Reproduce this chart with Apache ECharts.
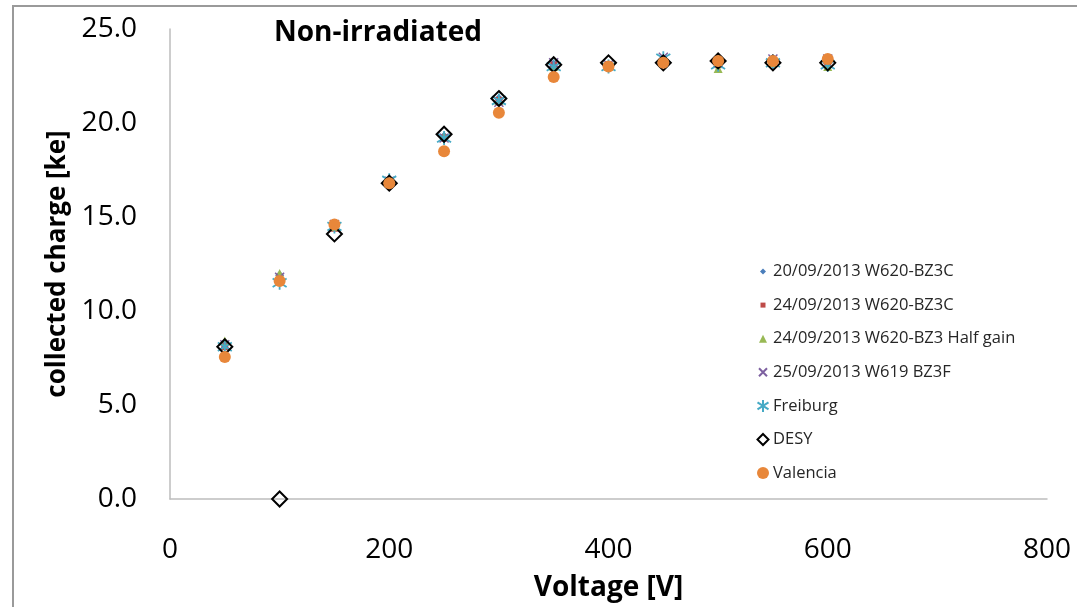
<!DOCTYPE html>
<html>
<head>
<meta charset="utf-8">
<script src="https://cdn.jsdelivr.net/npm/echarts@6/dist/echarts.min.js"></script>
<style>
  html, body { margin: 0; padding: 0; background: #fff; }
  #chart { width: 1077px; height: 607px; }
</style>
</head>
<body>
<div id="chart"></div>
<script>
// Bias voltage [V] for every run
const voltages = [50, 100, 150, 200, 250, 300, 350, 400, 450, 500, 550, 600];

// Collected charge [ke] per run
const run20W620 = [8.2, 11.9, 14.5, 16.9, 19.3, 21.3, 23.0, 23.1, 23.3, 23.2, 23.2, 23.2];
const run24W620 = [8.1, 11.8, 14.4, 16.8, 19.2, 21.2, 23.1, 23.1, 23.3, 23.1, 23.3, 23.2];
const run24HalfGain = [8.4, 12.0, 14.5, 16.9, 19.3, 21.2, 23.0, 23.0, 23.2, 22.9, 23.2, 23.0];
const run25W619 = [8.2, 11.8, 14.6, 16.9, 19.2, 21.1, 23.2, 23.1, 23.5, 23.2, 23.4, 23.4];
const freiburg = [8.1, 11.5, 14.5, 16.95, 19.2, 21.2, 23.0, 23.0, 23.45, 23.1, 23.2, 23.1];
const desy = [8.1, 0.0, 14.1, 16.8, 19.4, 21.3, 23.1, 23.2, 23.2, 23.3, 23.2, 23.2];
const valencia = [7.55, 11.6, 14.6, 16.8, 18.5, 20.55, 22.45, 23.0, 23.2, 23.3, 23.3, 23.4];

const seriesNames = [
  '20/09/2013 W620-BZ3C',
  '24/09/2013 W620-BZ3C',
  '24/09/2013 W620-BZ3 Half gain',
  '25/09/2013 W619 BZ3F',
  'Freiburg',
  'DESY',
  'Valencia'
];

// Axis ticks
const xTicks = { min: 0, max: 800, step: 200 };
const yTicks = { min: 0, max: 25, step: 5 };

const pair = (ys) => voltages.map((v, i) => [v, ys[i]]);

// Marker shapes
const crossPath = 'path://M0,0L10,10M0,10L10,0';
const starPath = 'path://M5,0L5,10M0,2L10,8M0,8L10,2';
// Legend icons padded inside a 12x12 box so they come out smaller
const legDiamond = 'path://M0,0M12,12M6,3L9,6L6,9L3,6Z';
const legSquare = 'path://M0,0M12,12M3.5,3.5L8.5,3.5L8.5,8.5L3.5,8.5Z';
const legTriangle = 'path://M0,0M12,12M6,2L10,10L2,10Z';
const legCross = 'path://M0,0M12,12M2,2L10,10M2,10L10,2';
const legStar = 'path://M0,0M12,12M6,0L6,12M0.5,2.5L11.5,9.5M0.5,9.5L11.5,2.5';
const legDiamondOpen = 'path://M0,0M12,12M6,0.5L11.5,6L6,11.5L0.5,6Z';
const legCircle = 'circle';

const none = 'rgba(0,0,0,0)';

const chart = echarts.init(document.getElementById('chart'), null, { renderer: 'canvas' });

chart.setOption({
  animation: false,
  backgroundColor: '#fff',
  textStyle: { fontFamily: 'Open Sans' },
  title: {
    text: 'Non-irradiated',
    left: 269,
    top: 14,
    textStyle: { fontFamily: 'Open Sans', fontWeight: 'bold', fontSize: 28, color: '#000' }
  },
  graphic: [{
    type: 'rect',
    shape: { x: 13, y: 6, width: 1200, height: 800 },
    style: { fill: none, stroke: '#9a9a9a', lineWidth: 2 },
    silent: true
  }],
  legend: {
    orient: 'vertical',
    left: 751,
    top: 258,
    itemWidth: 12,
    itemHeight: 14,
    itemGap: 16.6,
    selectedMode: false,
    textStyle: { fontFamily: 'Open Sans', fontSize: 16.5, color: '#262626', padding: [0, 0, 0, -1] },
    data: [
      { name: seriesNames[0], icon: legDiamond },
      { name: seriesNames[1], icon: legSquare },
      { name: seriesNames[2], icon: legTriangle },
      { name: seriesNames[3], icon: legCross },
      { name: seriesNames[4], icon: legStar },
      { name: seriesNames[5], icon: legDiamondOpen },
      { name: seriesNames[6], icon: legCircle }
    ]
  },
  grid: { left: 170, right: 30, top: 29, bottom: 108, containLabel: false },
  xAxis: {
    type: 'value',
    min: xTicks.min,
    max: xTicks.max,
    interval: xTicks.step,
    name: 'Voltage [V]',
    nameLocation: 'middle',
    nameGap: 75,
    nameTextStyle: { fontFamily: 'Open Sans', fontWeight: 'bold', fontSize: 28, color: '#000' },
    axisLine: { show: true, lineStyle: { color: '#bdbdbd', width: 1.5 } },
    axisTick: { show: false },
    splitLine: { show: false },
    axisLabel: { fontFamily: 'Open Sans', fontSize: 28, color: '#000', margin: 37 }
  },
  yAxis: {
    type: 'value',
    min: yTicks.min,
    max: yTicks.max,
    interval: yTicks.step,
    name: 'collected charge [ke]',
    nameLocation: 'middle',
    nameGap: 97,
    nameTextStyle: { fontFamily: 'Open Sans', fontWeight: 'bold', fontSize: 26, color: '#000' },
    axisLine: { show: true, lineStyle: { color: '#bdbdbd', width: 1.5 } },
    axisTick: { show: false },
    splitLine: { show: false },
    axisLabel: {
      fontFamily: 'Open Sans', fontSize: 28, color: '#000', margin: 33,
      formatter: (v) => v.toFixed(1)
    }
  },
  series: [
    {
      name: seriesNames[0], type: 'scatter', data: pair(run20W620),
      symbol: 'diamond', symbolSize: 9,
      itemStyle: { color: '#4a7ebb', opacity: 1 }
    },
    {
      name: seriesNames[1], type: 'scatter', data: pair(run24W620),
      symbol: 'rect', symbolSize: 7,
      itemStyle: { color: '#be4b48', opacity: 1 }
    },
    {
      name: seriesNames[2], type: 'scatter', data: pair(run24HalfGain),
      symbol: 'triangle', symbolSize: 9,
      itemStyle: { color: '#98b954', opacity: 1 }
    },
    {
      name: seriesNames[3], type: 'scatter', data: pair(run25W619),
      symbol: crossPath, symbolSize: 9,
      itemStyle: { color: none, borderColor: '#7d60a0', borderWidth: 1.5, opacity: 1 }
    },
    {
      name: seriesNames[4], type: 'scatter', data: pair(freiburg),
      symbol: starPath, symbolSize: 14,
      itemStyle: { color: none, borderColor: '#46aac5', borderWidth: 1.8, opacity: 1 }
    },
    {
      name: seriesNames[5], type: 'scatter', data: pair(desy),
      symbol: 'diamond', symbolSize: 15,
      itemStyle: { color: none, borderColor: '#000', borderWidth: 2, opacity: 1 }
    },
    {
      name: seriesNames[6], type: 'scatter', data: pair(valencia),
      symbol: 'circle', symbolSize: 12,
      itemStyle: { color: '#e8873a', opacity: 1 }
    }
  ]
});
</script>
</body>
</html>
